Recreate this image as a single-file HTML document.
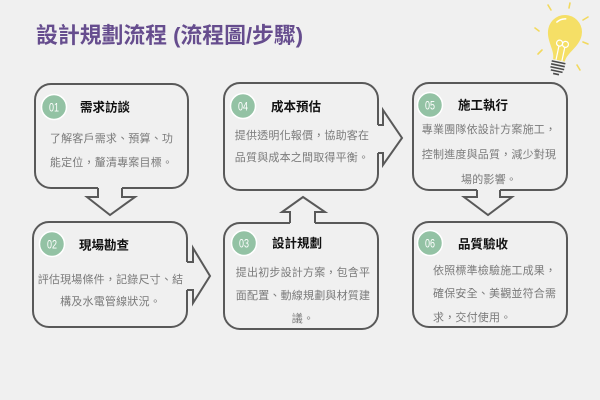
<!DOCTYPE html>
<html><head><meta charset="utf-8"><style>
html,body{margin:0;padding:0;background:#f0f0f0;}
svg{display:block;}
text{font-family:"Liberation Sans","Noto Sans CJK TC",sans-serif;}
.t{font-size:12.5px;font-weight:bold;fill:#111;}
.b{font-size:11px;fill:#7a7a7a;letter-spacing:0.2px;}
.n{font-size:12px;fill:#fff;}
.box{fill:#f0f0f0;stroke:#595959;stroke-width:2;}
.af{fill:#f0f0f0;stroke:none;}
.as{fill:none;stroke:#595959;stroke-width:2;stroke-linejoin:miter;}
.c{fill:#93c2a4;stroke:#fff;stroke-width:1.5;}
</style></head><body>
<svg width="600" height="400" viewBox="0 0 600 400" xmlns="http://www.w3.org/2000/svg">
<rect width="600" height="400" fill="#f0f0f0"/>
<text x="36" y="43" font-size="22" font-weight="bold" fill="#664d8e" textLength="267" lengthAdjust="spacingAndGlyphs" font-family="Liberation Sans, Noto Sans CJK TC, sans-serif">設計規劃流程 (流程圖/步驟)</text>

<!-- lightbulb -->
<g stroke="#f2d95e" stroke-width="1.6" stroke-linecap="round">
<line x1="535" y1="28" x2="539" y2="31"/>
<line x1="548" y1="5" x2="551" y2="10"/>
<line x1="570" y1="3" x2="569" y2="8"/>
<line x1="583" y1="20" x2="588" y2="17"/>
<line x1="538" y1="54" x2="542" y2="50"/>
<line x1="583" y1="42" x2="588" y2="44"/>
<line x1="577" y1="65" x2="580" y2="70"/>
</g>
<g transform="translate(565,32) rotate(12)">
<path d="M-6,29 C-6,20 -17,12 -17,0 A17,17 0 1 1 17,0 C17,12 6,20 6,29 Z" fill="#f5df66"/>
<path d="M-10,-8 A12,12 0 0 1 -2,-13" fill="none" stroke="#fff" stroke-width="1.5" stroke-linecap="round"/>
<g fill="none" stroke="#fff" stroke-width="1.2">
<line x1="-3" y1="29" x2="-3" y2="15"/>
<line x1="3" y1="29" x2="3" y2="15"/>
<circle cx="-3" cy="12" r="3"/>
<circle cx="3" cy="12" r="3"/>
</g>
<g stroke="#4a4a4a" stroke-width="1.6">
<line x1="-7" y1="31" x2="7" y2="31"/>
<line x1="-7" y1="34" x2="7" y2="34"/>
<line x1="-7" y1="37" x2="7" y2="37"/>
<line x1="-6" y1="40" x2="6" y2="40"/>
<line x1="-3" y1="43" x2="3" y2="43"/>
</g>
</g>

<!-- boxes -->
<rect class="box" x="35" y="84" width="153" height="104" rx="16"/>
<rect class="box" x="33" y="222" width="154" height="105" rx="16"/>
<rect class="box" x="224" y="223" width="154" height="106" rx="16"/>
<rect class="box" x="224" y="83" width="154" height="107" rx="16"/>
<rect class="box" x="413" y="83" width="154" height="107" rx="16"/>
<rect class="box" x="413" y="222" width="154" height="105" rx="16"/>

<!-- arrows -->
<polygon class="af" points="98,185 98,197 87,197 110,215 135,197 122,197 122,185"/>
<polyline class="as" points="98,188 98,197 87,197 110,215 135,197 122,197 122,188"/>

<polygon class="af" points="184,262 193,262 193,248 210,276 193,303 193,290 184,290"/>
<polyline class="as" points="187,262 193,262 193,248 210,276 193,303 193,290 187,290"/>

<polygon class="af" points="290,226 290,212 282,212 303,197 325,212 315,212 315,226"/>
<polyline class="as" points="290,223 290,212 282,212 303,197 325,212 315,212 315,223"/>

<polygon class="af" points="375,125 383,125 383,110 402,138 383,165 383,153 375,153"/>
<polyline class="as" points="378,125 383,125 383,110 402,138 383,165 383,153 378,153"/>

<polygon class="af" points="477,187 477,197 464,197 488,215 512,197 500,197 500,187"/>
<polyline class="as" points="477,190 477,197 464,197 488,215 512,197 500,197 500,190"/>

<!-- circles -->
<circle class="c" cx="54" cy="107" r="12.5"/>
<circle class="c" cx="52" cy="244" r="12.5"/>
<circle class="c" cx="244" cy="243" r="12.5"/>
<circle class="c" cx="243" cy="106" r="12.5"/>
<circle class="c" cx="430" cy="105" r="12.5"/>
<circle class="c" cx="430" cy="243" r="12.5"/>
<g text-anchor="middle">
<text class="n" x="54" y="111.5" textLength="10" lengthAdjust="spacingAndGlyphs">01</text>
<text class="n" x="52" y="248.5" textLength="10" lengthAdjust="spacingAndGlyphs">02</text>
<text class="n" x="244" y="247.5" textLength="10" lengthAdjust="spacingAndGlyphs">03</text>
<text class="n" x="243" y="110.5" textLength="10" lengthAdjust="spacingAndGlyphs">04</text>
<text class="n" x="430" y="109.5" textLength="10" lengthAdjust="spacingAndGlyphs">05</text>
<text class="n" x="430" y="247.5" textLength="10" lengthAdjust="spacingAndGlyphs">06</text>
</g>

<!-- titles -->
<text class="t" x="80" y="111.5">需求訪談</text>
<text class="t" x="79" y="249.5">現場勘查</text>
<text class="t" x="272" y="247.5">設計規劃</text>
<text class="t" x="271" y="111">成本預估</text>
<text class="t" x="458" y="109.5">施工執行</text>
<text class="t" x="458" y="248.5">品質驗收</text>

<!-- bodies -->
<g text-anchor="middle">
<text class="b" x="111.5" y="142">了解客戶需求、預算、功</text>
<text class="b" x="111.5" y="166">能定位，釐清專案目標。</text>

<text class="b" x="110.5" y="283">評估現場條件，記錄尺寸、結</text>
<text class="b" x="110.5" y="305">構及水電管線狀況。</text>

<text class="b" x="303" y="276">提出初步設計方案，包含平</text>
<text class="b" x="303" y="299">面配置、動線規劃與材質建</text>
<text class="b" x="303" y="322">議。</text>

<text class="b" x="302" y="139">提供透明化報價，協助客在</text>
<text class="b" x="302" y="161">品質與成本之間取得平衡。</text>

<text class="b" x="489" y="133">專業團隊依設計方案施工，</text>
<text class="b" x="489" y="158">控制進度與品質，減少對現</text>
<text class="b" x="489" y="183">場的影響。</text>
</g>
<text class="b" x="433" y="274">依照標準檢驗施工成果，</text>
<text class="b" x="433" y="297">確保安全、美觀並符合需</text>
<text class="b" x="433" y="321">求，交付使用。</text>
</svg>
</body></html>
